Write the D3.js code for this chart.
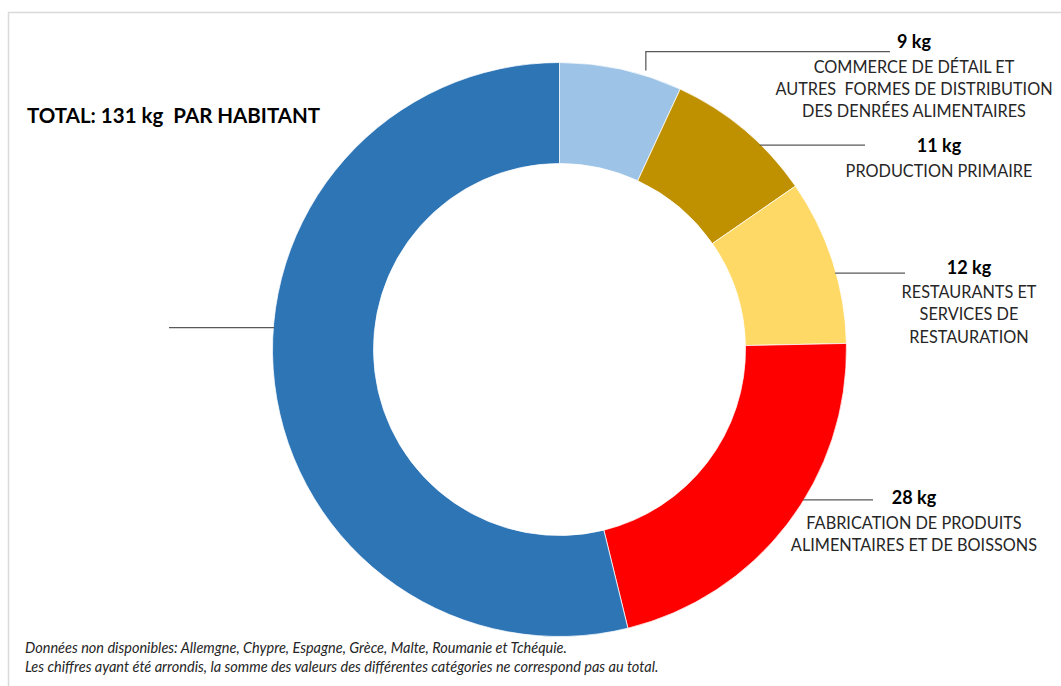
<!DOCTYPE html>
<html>
<head>
<meta charset="utf-8">
<script src="https://cdn.jsdelivr.net/npm/d3@7"></script>
<style>
  html, body { margin: 0; padding: 0; background: #fff; }
  svg { display: block; font-family: Lato, "Open Sans", sans-serif; }
</style>
</head>
<body>
<svg id="chart" width="1061" height="686"></svg>
<script>
  // values (kg per inhabitant), clockwise from 12 o'clock
  var sliceKeys = ['retail', 'primary', 'restaurants', 'manufacturing', 'households'];
  var sliceValues = [9.05, 11.07, 12.19, 28.17, 70.52];
  var sliceColors = ['#9dc3e6', '#bf9000', '#ffd966', '#ff0000', '#2e75b6'];
  var valueLabels = ['9 kg', '11 kg', '12 kg', '28 kg', ''];
  var categoryLines = [
    ['COMMERCE DE DÉTAIL ET', 'AUTRES  FORMES DE DISTRIBUTION', 'DES DENRÉES ALIMENTAIRES'],
    ['PRODUCTION PRIMAIRE'],
    ['RESTAURANTS ET', 'SERVICES DE', 'RESTAURATION'],
    ['FABRICATION DE PRODUITS', 'ALIMENTAIRES ET DE BOISSONS'],
    []
  ];
  var totalLabel = 'TOTAL: 131 kg\u00a0\u00a0PAR HABITANT';
  var footnotes = [
    'Données non disponibles: Allemgne, Chypre, Espagne, Grèce, Malte, Roumanie et Tchéquie.',
    'Les chiffres ayant été arrondis, la somme des valeurs des différentes catégories ne correspond pas au total.'
  ];

  // layout of the callouts (angle on the ring in degrees, where the leader ends, label anchor)
  var callouts = [
    { angle: 17.2, r: 292, elbowY: 51.7, endX: 890, labelX: 914, labelY: 48 },
    { angle: 44.4, r: 286, endX: 865, labelX: 939, labelY: 152 },
    { angle: 74.5, r: 286, endX: 905, labelX: 969, labelY: 273.5 },
    { angle: 121.7, r: 286, endX: 873, labelX: 914, labelY: 504 },
    { angle: 274.4, r: 286, endX: 169 }
  ];

  var svg = d3.select('#chart');
  var cx = 559.5, cy = 349.5;
  var outerR = 287, innerR = 186;

  // frame (only left and top edges show in the picture)
  svg.append('path')
    .attr('d', 'M8.5,700 L8.5,12.5 L1070,12.5')
    .attr('fill', 'none')
    .attr('stroke', '#d9d9d9')
    .attr('stroke-width', 1.5);

  var pie = d3.pie().sort(null).value(function(d) { return d; });
  var arc = d3.arc().innerRadius(innerR).outerRadius(outerR);

  var ring = svg.append('g').attr('transform', 'translate(' + cx + ',' + cy + ')');
  ring.selectAll('path.slice')
    .data(pie(sliceValues))
    .enter().append('path')
      .attr('class', function(d, i) { return 'slice ' + sliceKeys[i]; })
      .attr('d', arc)
      .attr('fill', function(d, i) { return sliceColors[i]; })
      .attr('stroke', '#fff')
      .attr('stroke-width', 0.75);

  // leader lines
  svg.append('g').selectAll('path.leader')
    .data(callouts)
    .enter().append('path')
      .attr('class', 'leader')
      .attr('fill', 'none')
      .attr('stroke', '#595959')
      .attr('stroke-width', 1.25)
      .attr('d', function(c) {
        var a = c.angle * Math.PI / 180;
        var x0 = cx + Math.sin(a) * c.r;
        var y0 = cy - Math.cos(a) * c.r;
        if (c.elbowY != null) {
          return 'M' + x0 + ',' + y0 + 'L' + x0 + ',' + c.elbowY + 'L' + c.endX + ',' + c.elbowY;
        }
        return 'M' + x0 + ',' + y0 + 'L' + c.endX + ',' + y0;
      });

  // callout labels
  var labels = svg.append('g').selectAll('g.callout')
    .data(callouts.filter(function(c) { return c.labelX != null; }))
    .enter().append('g')
      .attr('class', 'callout')
      .attr('transform', function(c) { return 'translate(' + c.labelX + ',' + c.labelY + ')'; });

  labels.append('text')
    .attr('text-anchor', 'middle')
    .attr('font-weight', 'bold')
    .attr('font-size', 18)
    .attr('fill', '#000')
    .text(function(c, i) { return valueLabels[i]; });

  labels.each(function(c, i) {
    d3.select(this).selectAll('text.cat')
      .data(categoryLines[i])
      .enter().append('text')
        .attr('class', 'cat')
        .attr('text-anchor', 'middle')
        .attr('y', function(t, j) { return 24.5 + j * 22.3; })
        .attr('font-size', 16.3)
        .attr('fill', '#262626')
        .style('white-space', 'pre')
        .text(function(t) { return t; });
  });

  svg.append('text')
    .attr('x', 27)
    .attr('y', 122.5)
    .attr('font-weight', 'bold')
    .attr('font-size', 20.5)
    .attr('fill', '#000')
    .text(totalLabel);

  svg.append('g').selectAll('text.note')
    .data(footnotes)
    .enter().append('text')
      .attr('class', 'note')
      .attr('x', 25)
      .attr('y', function(d, i) { return 653 + i * 19; })
      .attr('font-size', 14.5)
      .attr('font-style', 'italic')
      .attr('fill', '#262626')
      .text(function(d) { return d; });
</script>
</body>
</html>
